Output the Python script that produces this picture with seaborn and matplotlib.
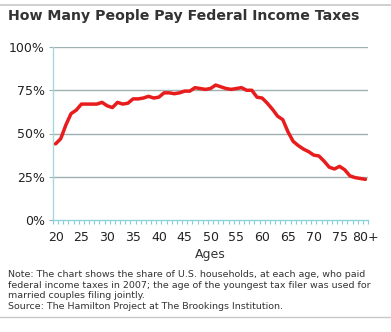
import matplotlib
matplotlib.use("Agg")
import matplotlib.pyplot as plt
import seaborn as sns
import pandas as pd
import numpy as np
from matplotlib.ticker import FixedLocator, MultipleLocator

ages = list(range(20, 81))
share = [44, 47, 55, 61.5, 63.5, 67, 67, 67, 67, 68,
         66, 65, 68, 67, 67.5, 70, 70, 70.5, 71.5, 70.5,
         71, 73.5, 73.5, 73, 73.5, 74.5, 74.5, 76.5, 76, 75.5,
         76, 78, 77, 76, 75.5, 76, 76.5, 75, 75, 71,
         70.5, 67.5, 64, 60, 58, 51, 45.5, 43, 41, 39.5,
         37.5, 37, 34, 30.5, 29.5, 31, 29, 25.5, 24.5, 24, 23.5]
tick_ages = [20, 25, 30, 35, 40, 45, 50, 55, 60, 65, 70, 75, 80]
tick_labels = ["20", "25", "30", "35", "40", "45", "50", "55", "60", "65", "70", "75", "80+"]
y_ticks = [0, 25, 50, 75, 100]
y_labels = ["0%", "25%", "50%", "75%", "100%"]

title = "How Many People Pay Federal Income Taxes"
note = ("Note: The chart shows the share of U.S. households, at each age, who paid\n"
        "federal income taxes in 2007; the age of the youngest tax filer was used for\n"
        "married couples filing jointly.\n"
        "Source: The Hamilton Project at The Brookings Institution.")

sns.set_style("white")
plt.rcParams['font.family'] = ['DejaVu Sans']

df = pd.DataFrame({"age": ages, "share": share})

fig = plt.figure(figsize=(3.91, 3.32), dpi=100)
ax = fig.add_axes([53/391, 1-220/332, (368-53)/391, (220-47)/332])

for y in y_ticks[1:]:
    ax.axhline(y, color="#9fb0b0", lw=1.0, zorder=1)

sns.lineplot(data=df, x="age", y="share", ax=ax, color="#e81c1c", lw=2.5, zorder=3)

ax.set_xlim(19.5, 80.5)
ax.set_ylim(0, 100)
ax.set_yticks(y_ticks)
ax.set_yticklabels(y_labels, fontsize=9, color="#222222")
ax.xaxis.set_major_locator(FixedLocator(tick_ages))
ax.set_xticklabels(tick_labels, fontsize=9, color="#222222")
ax.xaxis.set_minor_locator(FixedLocator([a + 0.5 for a in range(19, 81)]))
ax.tick_params(axis="x", which="major", length=0, pad=8)
ax.tick_params(axis="x", which="minor", length=3, color="#7fd0d8", width=0.8, bottom=True)
ax.tick_params(axis="y", length=3, color="#9fb0b0", pad=3, left=True)
ax.set_xlabel("Ages", fontsize=9, color="#333333", labelpad=3)
ax.set_ylabel("")

for s in ["top", "right"]:
    ax.spines[s].set_visible(False)
ax.spines["left"].set_color("#a8d8dc")
ax.spines["left"].set_linewidth(1.0)
ax.spines["bottom"].set_color("#8fd4dc")
ax.spines["bottom"].set_linewidth(1.0)

fig.text(8/391, 1-16/332, title, fontsize=10.2, fontweight="bold", color="#333333",
         va="center", ha="left")
fig.text(8/391, 1-270/332, note, fontsize=6.8, color="#333333", va="top", ha="left",
         linespacing=1.25)

fig.add_artist(plt.Line2D([0, 1], [1-5/332, 1-5/332], color="#c8c8c8", lw=1.2,
                          transform=fig.transFigure))
fig.add_artist(plt.Line2D([0, 1], [1-317/332, 1-317/332], color="#c8c8c8", lw=1.0,
                          transform=fig.transFigure))

fig.savefig("out.png", dpi=100)
